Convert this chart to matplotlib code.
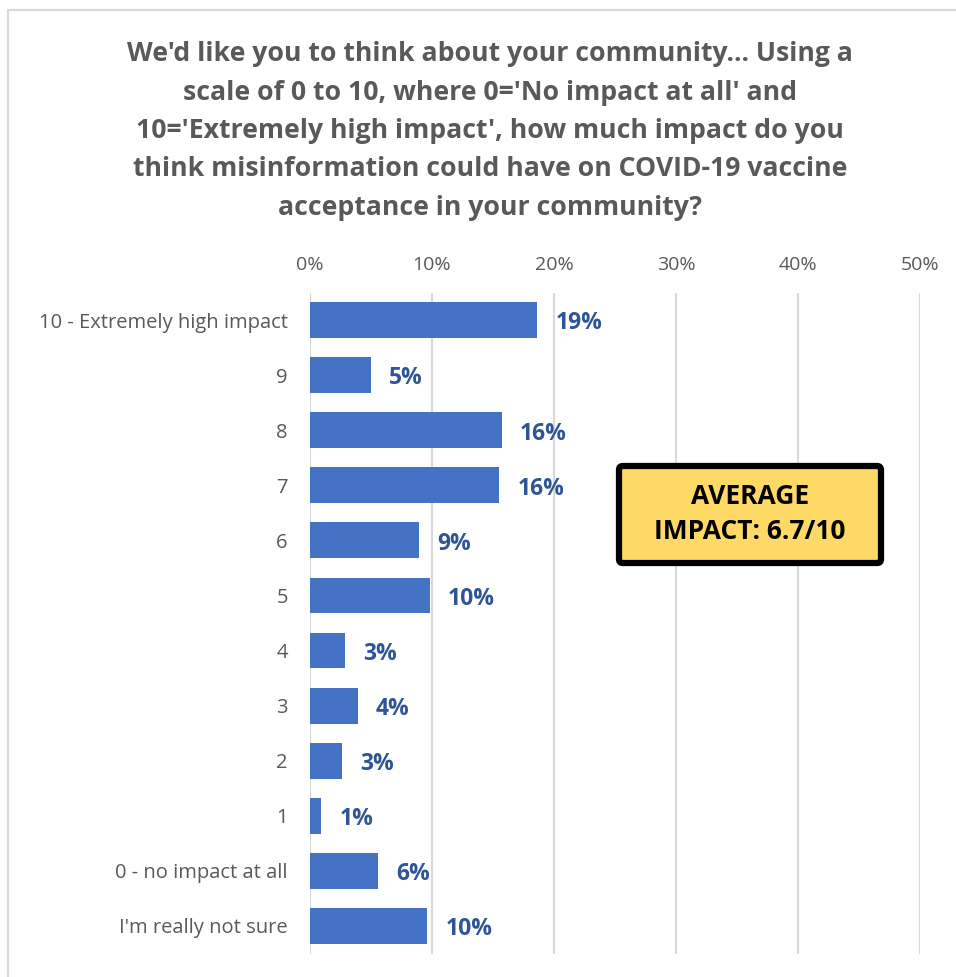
import matplotlib
matplotlib.use("Agg")
import matplotlib.pyplot as plt
from matplotlib.patches import Rectangle, FancyBboxPatch
from matplotlib.ticker import FuncFormatter

plt.rcParams['font.family'] = ['Open Sans', 'DejaVu Sans']

categories = ["10 - Extremely high impact", "9", "8", "7", "6", "5", "4", "3",
              "2", "1", "0 - no impact at all", "I'm really not sure"]
shares = [18.6, 5.0, 15.7, 15.5, 8.9, 9.8, 2.9, 3.9, 2.6, 0.9, 5.6, 9.6]
x_ticks = [0, 10, 20, 30, 40, 50]

title = ("We'd like you to think about your community... Using a\n"
         "scale of 0 to 10, where 0='No impact at all' and\n"
         "10='Extremely high impact', how much impact do you\n"
         "think misinformation could have on COVID-19 vaccine\n"
         "acceptance in your community?")
callout = "AVERAGE\nIMPACT: 6.7/10"

grey = "#595959"
bar_blue = "#4472C4"
label_blue = "#2F5597"

fig = plt.figure(figsize=(9.56, 9.77), dpi=100)
fig.patch.set_facecolor("white")

# outer chart frame
fig.patches.append(Rectangle((8 / 956, -0.01), 1.0, 1 - 10 / 977 + 0.01,
                             transform=fig.transFigure, fill=False,
                             edgecolor="#D9D9D9", linewidth=1.5))

ax = fig.add_axes([310 / 956, 1 - 953.5 / 977, 610 / 956, 661 / 977])
ypos = list(range(len(categories)))
ax.barh(ypos, shares, height=0.65, color=bar_blue, zorder=3)
ax.set_xlim(0, 50)
ax.set_ylim(len(categories) - 0.5, -0.5)
ax.set_xticks(x_ticks)
ax.xaxis.set_major_formatter(FuncFormatter(lambda v, p: f"{v:.0f}%"))
ax.xaxis.tick_top()
ax.tick_params(axis="x", length=0, pad=13, labelsize=14, labelcolor=grey)
ax.set_yticks(ypos)
ax.set_yticklabels(categories)
ax.tick_params(axis="y", length=0, pad=16, labelsize=14.5, labelcolor=grey)
ax.grid(axis="x", color="#D9D9D9", linewidth=1.5, zorder=0)
for s in ax.spines.values():
    s.set_visible(False)

for y, v in zip(ypos, shares):
    ax.text(v + 1.5, y + 0.06, f"{v:.0f}%", va="center", ha="left",
            fontsize=16.5, fontweight="bold", color=label_blue, zorder=4)

fig.text(490 / 956, 1 - 131 / 977, title, ha="center", va="center",
         fontsize=19.2, fontweight="bold", color=grey, linespacing=1.62)

# callout box with the average score
box = FancyBboxPatch((619 / 956, 1 - 563 / 977), 262 / 956, 97 / 977,
                     boxstyle="round,pad=0,rounding_size=0.004",
                     transform=fig.transFigure, facecolor="#FFD966",
                     edgecolor="black", linewidth=4.5, zorder=5)
fig.patches.append(box)
fig.text(750 / 956, 1 - 514 / 977, callout, ha="center", va="center",
         fontsize=19, fontweight="bold", color="black", linespacing=1.35,
         zorder=6)

fig.savefig("out.png", dpi=100, facecolor="white")
